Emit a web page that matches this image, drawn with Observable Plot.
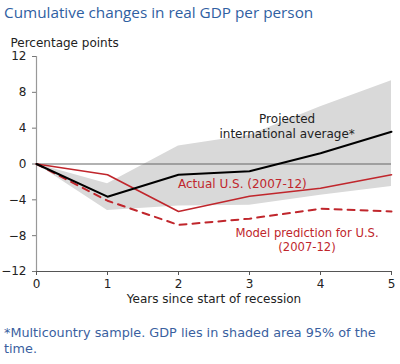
<!DOCTYPE html>
<html>
<head>
<meta charset="utf-8">
<script src="https://cdn.jsdelivr.net/npm/d3@7"></script>
<script src="https://cdn.jsdelivr.net/npm/@observablehq/plot@0.6"></script>
<style>
  html, body { margin: 0; padding: 0; background: #fff; }
  body { width: 400px; height: 364px; overflow: hidden; font-family: "DejaVu Sans", Verdana, sans-serif; }
  #title { height: 24px; line-height: 24px; padding-left: 4px; font-family: "Open Sans", sans-serif; font-size: 15.3px; color: #2f60a2; white-space: nowrap; }
  #note { padding: 5px 0 0 4px; font-size: 12.8px; line-height: 16px; color: #3a5f9f; white-space: nowrap; }
  svg { display: block; }
</style>
</head>
<body>
<div id="title">Cumulative changes in real GDP per person</div>
<div id="chart"></div>
<div id="note">*Multicountry sample. GDP lies in shaded area 95% of the<br>time.</div>
<script>
const years = [0, 1, 2, 3, 4, 5];
const intlAvg = [0, -3.65, -1.2, -0.8, 1.2, 3.6];
const actualUS = [0, -1.2, -5.3, -3.6, -2.7, -1.2];
const modelUS = [0, -4.1, -6.8, -6.1, -5.0, -5.3];
const bandLow = [0, -5.2, -4.7, -4.6, -3.5, -2.5];
const bandHigh = [0, -2.2, 2.0, 3.2, 6.4, 9.3];
const yTicks = [-12, -8, -4, 0, 4, 8, 12];
const xTicks = [0, 1, 2, 3, 4, 5];
const yLabel = "Percentage points";
const xLabel = "Years since start of recession";
const intlLabel = "Projected\ninternational average*";
const actualLabel = "Actual U.S. (2007-12)";
const modelLabel = "Model prediction for U.S.\n(2007-12)";

const rows = years.map((x, i) => ({
  x, intl: intlAvg[i], actual: actualUS[i], model: modelUS[i], lo: bandLow[i], hi: bandHigh[i]
}));

const red = "#c0262c";
const chart = Plot.plot({
  width: 400,
  height: 296,
  marginTop: 32,
  marginBottom: 49,
  marginLeft: 36,
  marginRight: 9,
  style: { fontFamily: "DejaVu Sans, Verdana, sans-serif", fontSize: "11px", color: "#222", background: "#fff" },
  x: { domain: [0, 5] },
  y: { domain: [-12, 12] },
  marks: [
    Plot.areaY(rows, { x: "x", y1: "lo", y2: "hi", fill: "#d9d9d9" }),
    Plot.ruleY([0], { stroke: "#666", strokeWidth: 1.2 }),
    Plot.ruleX([0], { y1: -12, y2: 12, stroke: "#999", strokeWidth: 1.2 }),
    Plot.ruleY([-12], { x1: 0, x2: 5, stroke: "#555", strokeWidth: 1.2 }),
    Plot.axisY({ ticks: yTicks, tickSize: 4, tickPadding: 6, tickFormat: "d", label: null, stroke: "#777", color: "#222", fontSize: 12 }),
    Plot.axisX({ ticks: xTicks, tickSize: 4, tickPadding: 4, tickFormat: "d", label: null, stroke: "#555", color: "#222", fontSize: 12 }),
    Plot.line(rows, { x: "x", y: "model", stroke: red, strokeWidth: 2, strokeDasharray: "7,6" }),
    Plot.line(rows, { x: "x", y: "actual", stroke: red, strokeWidth: 1.6 }),
    Plot.line(rows, { x: "x", y: "intl", stroke: "#000", strokeWidth: 2 }),
    Plot.text([intlLabel], { x: 3.53, y: 4.3, text: d => d, fill: "#222", fontSize: 12, lineHeight: 1.25 }),
    Plot.text([actualLabel], { x: 2.9, y: -2.3, text: d => d, fill: red, fontSize: 12 }),
    Plot.text([modelLabel], { x: 3.81, y: -8.4, text: d => d, fill: red, fontSize: 11.6, lineHeight: 1.25 }),
    Plot.text([yLabel], { frameAnchor: "top-left", text: d => d, dx: -26, dy: -18, textAnchor: "start", fill: "#222", fontSize: 12 }),
    Plot.text([xLabel], { frameAnchor: "bottom", text: d => d, dy: 31, fill: "#222", fontSize: 12 })
  ]
});
document.getElementById("chart").appendChild(chart);
</script>
</body>
</html>
